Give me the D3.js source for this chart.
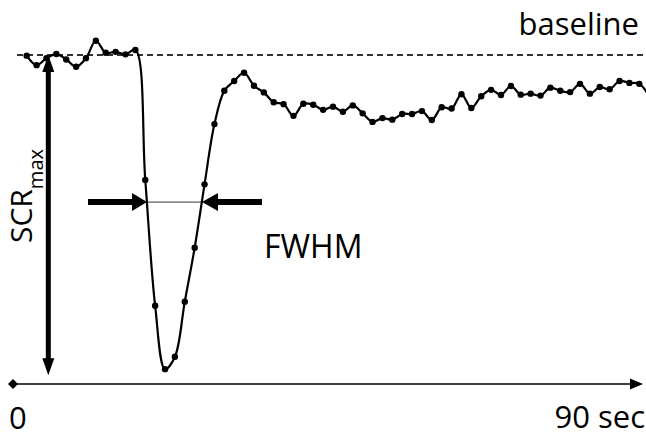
<!DOCTYPE html>
<html>
<head>
<meta charset="utf-8">
<script src="https://cdn.jsdelivr.net/npm/d3@7"></script>
<style>
  body { margin: 0; background: #fff; }
  text { font-family: "Open Sans", sans-serif; fill: #000; }
</style>
</head>
<body>
<div id="chart"></div>
<script>
const width = 646,
  height = 438;

// signal change vs. baseline (%), one value per sample
const signal = [
  -0.2, -3.2, -1.0, 0.3, -1.4, -3.7, -1.0, 4.5, 0.7, 1.0, 0.2, 1.6,
  -39.4, -79.1, -99.1, -95.2, -77.8, -60.8, -40.8, -21.8,
  -11.3, -8.2, -5.6, -9.7, -11.8, -14.9, -15.5, -19.2, -15.4, -15.7,
  -17.3, -16.3, -17.9, -15.9, -18.4, -21.1, -19.9, -20.4, -18.6, -18.6,
  -17.7, -20.5, -16.5, -16.9, -12.4, -16.7, -13.0, -11.0, -12.6, -9.8,
  -12.5, -12.2, -12.8, -10.3, -11.3, -11.7, -9.1, -12.2, -10.1, -10.8,
  -8.2, -8.8, -9.1, -13.0
];
const baselineValue = 0;
const scrMax = -101;
// full width at half max: crossing samples and level
const fwhm = { left: 12.18, right: 17.74, level: -46.4 };
const axisLabels = ["0", "90 sec"];

const x = d3.scaleLinear().domain([0, 62]).range([26.7, 639.3]);
const y = d3.scaleLinear().domain([-100, 0]).range([372, 55]);

const svg = d3
  .select("#chart")
  .append("svg")
  .attr("width", width)
  .attr("height", height);

// polygon for a thick arrow from (x1,y1) to tip (x2,y2)
function arrowPath(x1, y1, x2, y2, shaft, headW, headL, twoHeads) {
  const len = Math.hypot(x2 - x1, y2 - y1);
  const ang = Math.atan2(y2 - y1, x2 - x1);
  const s = shaft / 2,
    h = headW / 2;
  let pts;
  if (twoHeads) {
    pts = [
      [0, 0], [headL, -h], [headL, -s], [len - headL, -s], [len - headL, -h],
      [len, 0], [len - headL, h], [len - headL, s], [headL, s], [headL, h]
    ];
  } else {
    pts = [
      [0, -s], [len - headL, -s], [len - headL, -h], [len, 0],
      [len - headL, h], [len - headL, s], [0, s]
    ];
  }
  const c = Math.cos(ang),
    sn = Math.sin(ang);
  return (
    "M" +
    pts.map(p => `${x1 + p[0] * c - p[1] * sn},${y1 + p[0] * sn + p[1] * c}`).join("L") +
    "Z"
  );
}

// dashed baseline
svg
  .append("line")
  .attr("x1", 17)
  .attr("x2", width)
  .attr("y1", y(baselineValue))
  .attr("y2", y(baselineValue))
  .attr("stroke", "#333")
  .attr("stroke-width", 1.8)
  .attr("stroke-dasharray", "6,4");

// thin FWHM line
svg
  .append("line")
  .attr("x1", x(fwhm.left))
  .attr("x2", x(fwhm.right))
  .attr("y1", y(fwhm.level))
  .attr("y2", y(fwhm.level))
  .attr("stroke", "#333")
  .attr("stroke-width", 1);

// curve
const line = d3
  .line()
  .x((d, i) => x(i))
  .y(d => y(d))
  .curve(d3.curveCatmullRom.alpha(0.5));

svg
  .append("path")
  .datum(signal)
  .attr("d", line)
  .attr("fill", "none")
  .attr("stroke", "#000")
  .attr("stroke-width", 2.2);

svg
  .append("g")
  .selectAll("circle")
  .data(signal)
  .enter()
  .append("circle")
  .attr("cx", (d, i) => x(i))
  .attr("cy", d => y(d))
  .attr("r", 3.2)
  .attr("fill", "#000");

// SCRmax double arrow
svg
  .append("path")
  .attr("d", arrowPath(48.3, y(baselineValue), 48.3, y(scrMax), 5, 12, 17, true))
  .attr("fill", "#000");

// FWHM arrows
svg
  .append("path")
  .attr("d", arrowPath(88, y(fwhm.level), x(fwhm.left), y(fwhm.level), 6, 18, 15, false))
  .attr("fill", "#000");
svg
  .append("path")
  .attr("d", arrowPath(262, y(fwhm.level), x(fwhm.right), y(fwhm.level), 6, 18, 16, false))
  .attr("fill", "#000");

// time axis
const axisY = 384;
svg
  .append("line")
  .attr("x1", 13)
  .attr("x2", 634)
  .attr("y1", axisY)
  .attr("y2", axisY)
  .attr("stroke", "#000")
  .attr("stroke-width", 1.5);
svg
  .append("path")
  .attr("d", `M${13 - 5},${axisY}L13,${axisY - 5}L${13 + 5},${axisY}L13,${axisY + 5}Z`)
  .attr("fill", "#000");
svg
  .append("path")
  .attr("d", `M630,${axisY - 5.5}L643,${axisY}L630,${axisY + 5.5}Z`)
  .attr("fill", "#000");

// labels
svg
  .append("text")
  .attr("x", 9)
  .attr("y", 429)
  .attr("font-size", 31)
  .text(axisLabels[0]);
svg
  .append("text")
  .attr("x", 645)
  .attr("y", 428)
  .attr("text-anchor", "end")
  .attr("font-size", 31)
  .text(axisLabels[1]);

svg
  .append("text")
  .attr("x", 639)
  .attr("y", 35)
  .attr("text-anchor", "end")
  .attr("font-size", 31)
  .text("baseline");

svg
  .append("text")
  .attr("x", 264)
  .attr("y", 258)
  .attr("font-size", 32)
  .text("FWHM");

const scr = svg
  .append("text")
  .attr("transform", "translate(32,243) rotate(-90)")
  .attr("font-size", 30);
scr.append("tspan").text("SCR");
scr
  .append("tspan")
  .attr("dy", 11)
  .attr("font-size", 20)
  .text("max");
</script>
</body>
</html>
